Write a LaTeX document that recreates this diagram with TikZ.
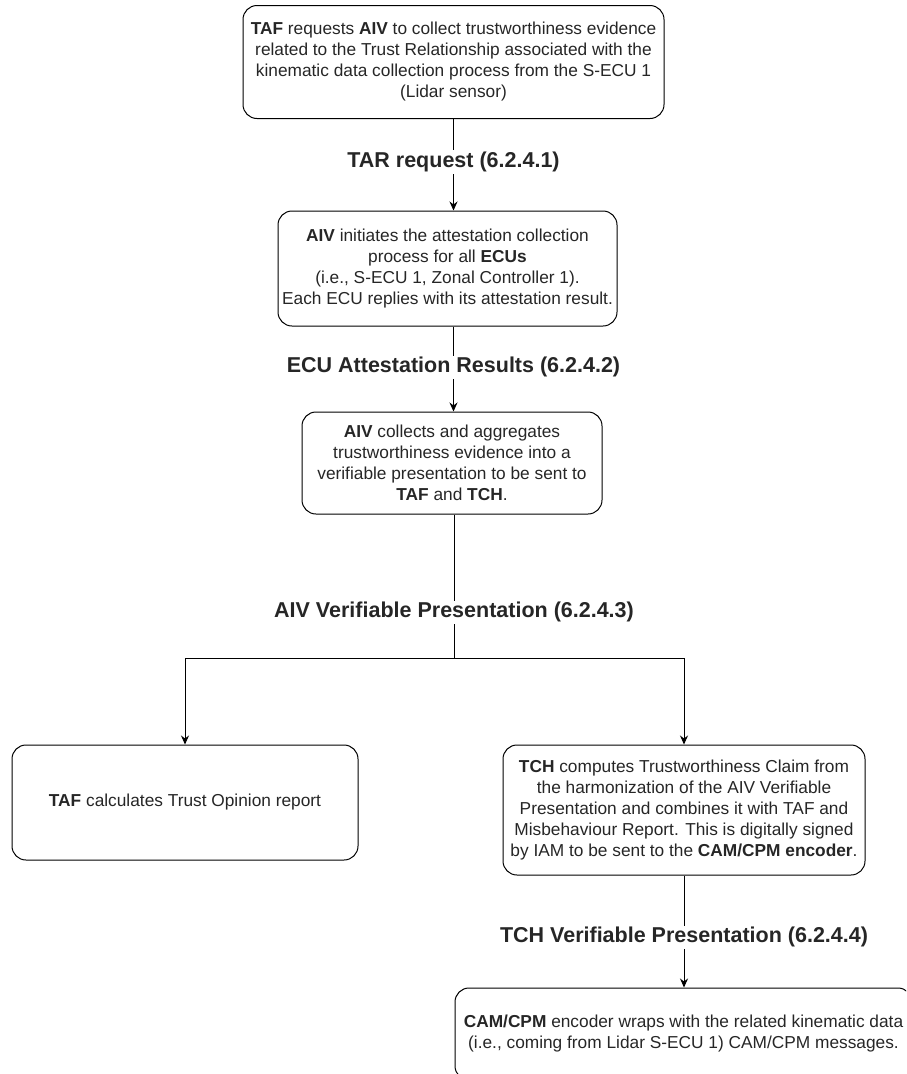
\documentclass[tikz,border=0pt]{standalone}
\usepackage{fontspec}
\setmainfont{Liberation Sans}
\usetikzlibrary{arrows.meta}
\definecolor{ink}{HTML}{262626}
\begin{document}
\begin{tikzpicture}[x=1pt,y=-1pt,
  box/.style={draw, line width=1pt, rounded corners=14pt, align=center, text=ink,
    font=\fontsize{17.3}{21}\selectfont, inner sep=0pt},
  lbl/.style={fill=white, text=ink, font=\bfseries\fontsize{21.5}{24}\selectfont, inner sep=1.5pt},
  flow/.style={line width=1pt, -{Stealth[length=9pt,width=8pt]}},
  plain/.style={line width=1pt}]
\useasboundingbox (0,0) rectangle (906,1074);
\clip (0,0) rectangle (906,1074);

% process steps
\node[box, minimum width=421pt, minimum height=113pt] (b1) at (453.5,62)
  {\textbf{TAF} requests \textbf{AIV} to collect trustworthiness evidence\\
   related to the Trust Relationship associated with the\\
   kinematic data collection process from the S-ECU 1\\
   (Lidar sensor)};
\node[box, minimum width=339pt, minimum height=115pt] (b2) at (447.5,268.5)
  {\textbf{AIV} initiates the attestation collection\\
   process for all \textbf{ECUs}\\
   (i.e., S-ECU 1, Zonal Controller 1).\\
   Each ECU replies with its attestation result.};
\node[box, minimum width=300pt, minimum height=102pt] (b3) at (452,463)
  {\textbf{AIV} collects and aggregates\\
   trustworthiness evidence into a\\
   verifiable presentation to be sent to\\
   \textbf{TAF} and \textbf{TCH}.};
\node[box, minimum width=346pt, minimum height=115pt] (b4) at (185,802.5)
  {\textbf{TAF} calculates Trust Opinion report};
\node[box, minimum width=362pt, minimum height=130pt] (b5) at (684,810)
  {\textbf{TCH} computes Trustworthiness Claim from\\
   the harmonization of the AIV Verifiable\\
   Presentation and combines it with TAF and\\
   Misbehaviour Report. This is digitally signed\\
   by IAM to be sent to the \textbf{CAM/CPM encoder}.};
\node[box, minimum width=457pt, minimum height=92pt] (b6) at (683.5,1034)
  {\textbf{CAM/CPM} encoder wraps with the related kinematic data\\
   (i.e., coming from Lidar S-ECU 1) CAM/CPM messages.};

% connectors
\coordinate (split) at (454,658);
\draw[flow] (b1.south) -- node[lbl, pos=.47] {TAR request (6.2.4.1)} (b1.south |- b2.north);
\draw[flow] (b2.south -| b1.south) -- node[lbl, pos=.48] {ECU Attestation Results (6.2.4.2)} (b1.south |- b3.north);
\draw[plain] (b3.south -| split) -- node[lbl, pos=.68] {AIV Verifiable Presentation (6.2.4.3)} (split);
\draw[flow] (split) -| (b4.north);
\draw[flow] (split) -| (b5.north);
\draw[flow] (b5.south) -- node[lbl, pos=.55] {TCH Verifiable Presentation (6.2.4.4)} (b5.south |- b6.north);
\end{tikzpicture}
\end{document}
